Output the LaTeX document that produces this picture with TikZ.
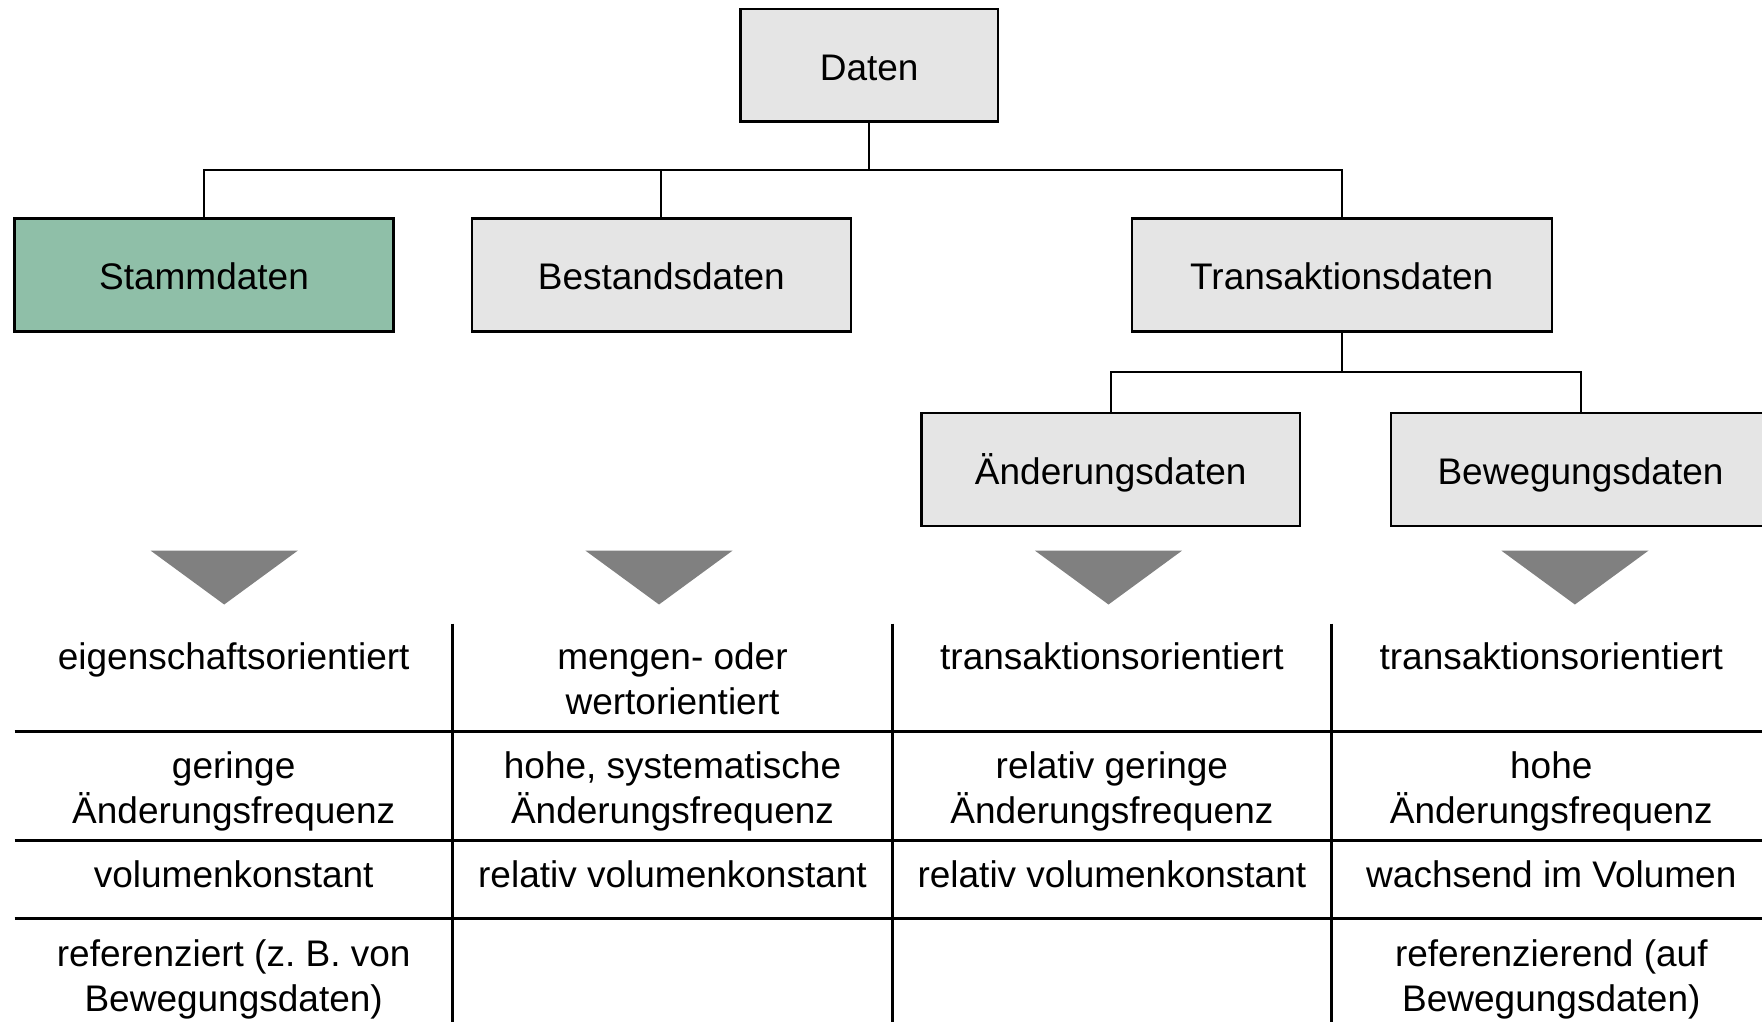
\documentclass[tikz,border=0pt]{standalone}
\usepackage{fontspec}
\setmainfont{Liberation Sans}
\usetikzlibrary{calc}
\definecolor{boxgray}{HTML}{E5E5E5}
\definecolor{stammgreen}{HTML}{8FBFA8}
\definecolor{trigray}{HTML}{808080}
\begin{document}
\begin{tikzpicture}[x=0.5pt,y=-0.5pt,
  every node/.style={font=\fontsize{18.5}{22.5}\selectfont, inner sep=0pt},
  box/.style={draw=black, line width=1.2pt, fill=boxgray, minimum height=56.5pt, minimum width=189.4pt, text height=15pt, text depth=0pt},
  conn/.style={draw=black, line width=1pt},
  tabline/.style={draw=black, line width=1.5pt},
  cell/.style={align=center, execute at begin node={\strut}, execute at end node={\strut}},
  tri/.style={fill=trigray}]
\useasboundingbox (0,0) rectangle (1762,1022);
\clip (0,0) rectangle (1762,1022);

% tree boxes
\node[box, minimum width=128.7pt, minimum height=56.2pt] (daten) at (869.2,65.2) {Daten};
\node[box, fill=stammgreen] (stamm) at (204,274.8) {Stammdaten};
\node[box] (bestand) at (661.3,274.8) {Bestandsdaten};
\node[box, minimum width=210pt] (trans) at (1341.7,274.8) {Transaktionsdaten};
\node[box] (aender) at (1110.7,469.2) {Änderungsdaten};
\node[box] (beweg) at (1580.5,469.2) {Bewegungsdaten};

% connectors
\coordinate (bus) at (0,169.7);
\coordinate (bus2) at (0,372);
\draw[conn] (daten.south) -- (daten.south |- bus) -| (stamm.north);
\draw[conn] (daten.south |- bus) -| (bestand.north);
\draw[conn] (daten.south |- bus) -| (trans.north);
\draw[conn] (trans.south) -- (trans.south |- bus2) -| (aender.north);
\draw[conn] (trans.south |- bus2) -| (beweg.north);

% triangles
\foreach \cx in {224.2,659,1108.5,1574.9}{
  \fill[tri] (\cx-73.6,550.6) -- (\cx+73.6,550.6) -- (\cx,604.5) -- cycle;
}

% table lines
\foreach \vx in {452.8,892.2,1331.6}{
  \draw[tabline] (\vx,623.6) -- (\vx,1022);
}
\foreach \hy in {731.5,840.5,918}{
  \draw[tabline] (14.6,\hy) -- (1762,\hy);
}

% table texts
\node[cell] (c11) at (233.7,660.7) {eigenschaftsorientiert};
\node[cell] (c12) at (672.5,685.5) {mengen- oder\\wertorientiert};
\node[cell] (c13) at (1111.9,660.7) {transaktionsorientiert};
\node[cell] (c14) at (1551.3,660.7) {transaktionsorientiert};

\node[cell] (c21) at (233.7,794.5) {geringe\\Änderungsfrequenz};
\node[cell] (c22) at (672.5,794.5) {hohe, systematische\\Änderungsfrequenz};
\node[cell] (c23) at (1111.9,794.5) {relativ geringe\\Änderungsfrequenz};
\node[cell] (c24) at (1551.3,794.5) {hohe\\Änderungsfrequenz};

\node[cell] (c31) at (233.7,878.7) {volumenkonstant};
\node[cell] (c32) at (672.5,878.7) {relativ volumenkonstant};
\node[cell] (c33) at (1111.9,878.7) {relativ volumenkonstant};
\node[cell] (c34) at (1551.3,878.7) {wachsend im Volumen};

\node[cell] (c41) at (233.7,982.2) {referenziert (z.\ B.\ von\\Bewegungsdaten)};
\node[cell] (c44) at (1551.3,982.2) {referenzierend (auf\\Bewegungsdaten)};
\end{tikzpicture}
\end{document}
